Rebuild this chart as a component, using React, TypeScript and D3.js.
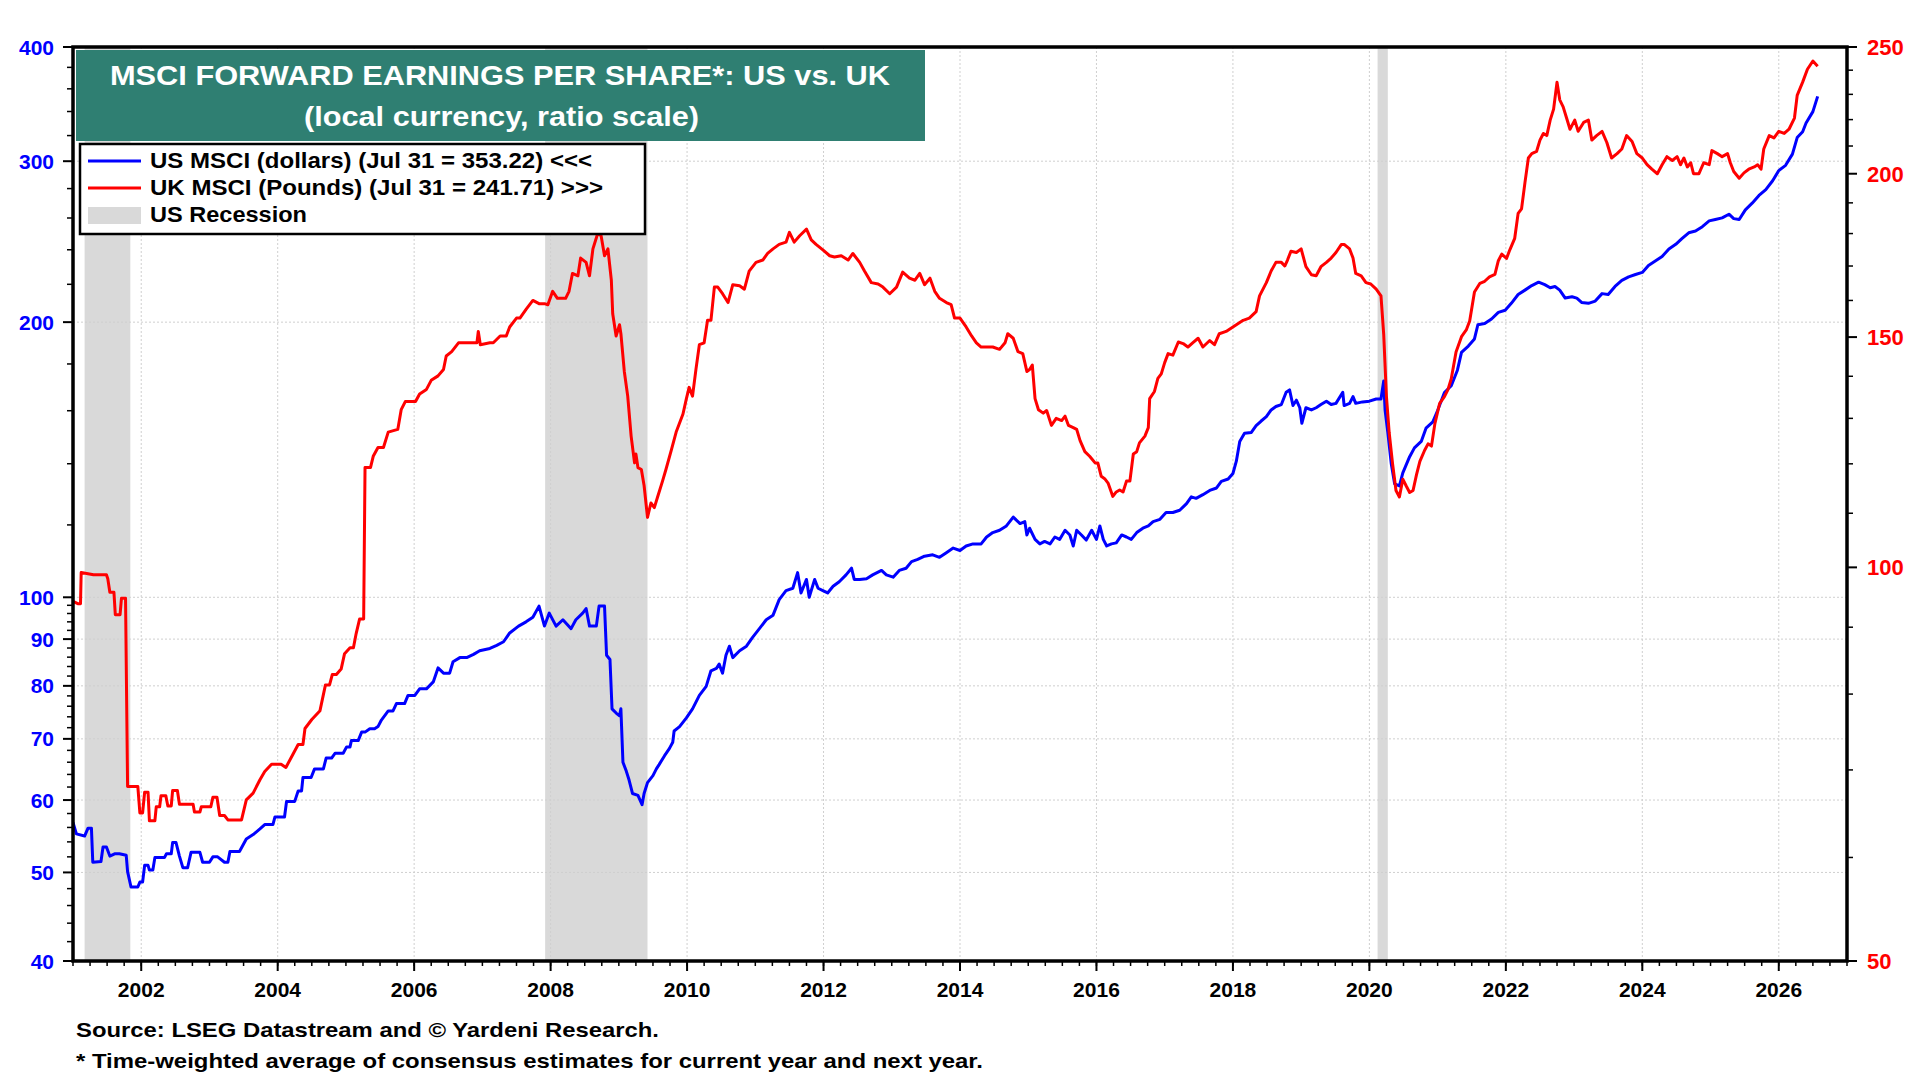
import * as d3 from 'd3';

// US MSCI forward EPS, dollars (left axis) — [decimal year, value]
const usMsci: [number, number][] = [
  [2001.00,56.7],[2001.05,55.1],[2001.17,54.8],[2001.22,55.9],[2001.27,55.9],[2001.29,51.3],[2001.41,51.4],[2001.44,53.3],[2001.49,53.3],[2001.54,52.1],[2001.61,52.4],[2001.68,52.4],[2001.78,52.2],[2001.80,50.1],[2001.85,48.2],[2001.95,48.2],[2001.98,48.8],[2002.02,48.8],[2002.05,50.9],[2002.10,50.9],[2002.12,50.3],[2002.17,50.3],[2002.20,51.9],[2002.34,51.9],[2002.37,52.4],[2002.44,52.4],[2002.46,53.9],[2002.51,53.9],[2002.56,52.1],[2002.61,50.6],[2002.68,50.6],[2002.73,52.6],[2002.86,52.6],[2002.90,51.3],[2003.00,51.3],[2003.05,52.0],[2003.12,52.0],[2003.22,51.3],[2003.27,51.3],[2003.30,52.7],[2003.44,52.7],[2003.54,54.4],[2003.64,55.0],[2003.74,55.8],[2003.81,56.4],[2003.93,56.4],[2003.96,57.5],[2004.10,57.5],[2004.13,59.8],[2004.25,59.8],[2004.30,61.4],[2004.35,61.4],[2004.37,63.5],[2004.49,63.5],[2004.54,64.9],[2004.67,64.9],[2004.71,66.7],[2004.79,66.7],[2004.84,67.5],[2004.96,67.5],[2005.01,68.6],[2005.06,68.6],[2005.08,69.7],[2005.18,69.7],[2005.23,71.2],[2005.28,71.2],[2005.35,71.8],[2005.42,71.8],[2005.47,72.2],[2005.52,73.4],[2005.62,75.1],[2005.69,75.1],[2005.74,76.5],[2005.86,76.5],[2005.91,78.1],[2006.01,78.1],[2006.08,79.4],[2006.18,79.4],[2006.28,80.8],[2006.35,83.7],[2006.43,82.6],[2006.52,82.6],[2006.57,85.0],[2006.67,85.9],[2006.77,85.9],[2006.87,86.6],[2006.96,87.4],[2007.11,87.9],[2007.21,88.6],[2007.31,89.4],[2007.40,91.4],[2007.53,93.0],
  [2007.64,94.0],[2007.74,95.1],[2007.83,97.8],[2007.91,93.0],[2007.98,96.1],[2008.08,93.0],[2008.18,94.5],[2008.30,92.4],[2008.37,94.5],[2008.47,96.1],[2008.52,97.2],[2008.57,93.0],[2008.67,93.0],[2008.71,97.8],[2008.79,97.8],[2008.82,86.4],[2008.87,85.5],[2008.90,75.5],[2008.96,74.7],[2009.01,74.2],[2009.03,75.5],[2009.06,66.0],[2009.11,64.5],[2009.15,63.1],[2009.20,61.0],[2009.28,60.7],[2009.34,59.3],[2009.37,61.0],[2009.42,62.7],[2009.50,63.8],[2009.55,64.9],[2009.59,65.6],[2009.67,67.1],[2009.74,68.3],[2009.79,69.4],[2009.81,71.4],[2009.89,72.2],[2009.99,73.8],[2010.08,75.5],[2010.18,78.1],[2010.28,79.9],[2010.35,83.1],[2010.43,83.6],[2010.47,84.5],[2010.52,82.6],[2010.57,86.4],[2010.62,88.4],[2010.67,85.9],[2010.77,87.4],[2010.87,88.4],[2010.96,90.4],[2011.06,92.4],[2011.16,94.5],[2011.26,95.6],[2011.35,99.4],[2011.45,101.7],[2011.55,102.3],[2011.62,106.4],[2011.67,101.1],[2011.75,104.6],[2011.79,100.0],[2011.87,104.6],[2011.92,102.3],[2011.99,101.7],[2012.06,101.1],[2012.14,102.8],[2012.23,104.0],[2012.33,105.8],[2012.41,107.6],[2012.45,104.6],[2012.53,104.6],[2012.63,104.8],[2012.72,105.8],[2012.85,107.0],[2012.92,105.8],[2013.02,105.2],[2013.11,107.0],[2013.21,107.6],[2013.29,109.4],[2013.38,110.0],[2013.48,110.9],[2013.60,111.3],[2013.70,110.6],[2013.80,111.9],[2013.90,113.2],[2014.00,112.5],[2014.09,113.8],[2014.19,114.4],[2014.31,114.4],[2014.39,116.4],[2014.48,117.7],[2014.58,118.4],[2014.68,119.7],[2014.78,122.4],[2014.88,120.4],[2014.95,121.0],
  [2014.98,117.0],[2015.02,119.0],[2015.10,115.7],[2015.17,114.4],[2015.24,115.1],[2015.32,114.4],[2015.39,116.4],[2015.46,115.7],[2015.54,118.4],[2015.61,117.0],[2015.66,113.8],[2015.71,118.4],[2015.78,117.0],[2015.85,115.5],[2015.93,118.4],[2016.00,115.7],[2016.05,119.7],[2016.10,115.7],[2016.15,113.8],[2016.22,114.4],[2016.29,114.7],[2016.37,117.0],[2016.44,116.4],[2016.51,115.7],[2016.59,117.7],[2016.68,119.0],[2016.76,119.7],[2016.83,121.0],[2016.93,121.7],[2017.02,123.8],[2017.12,123.8],[2017.22,124.5],[2017.32,126.6],[2017.39,128.8],[2017.46,128.3],[2017.56,129.5],[2017.66,130.9],[2017.76,131.7],[2017.83,133.9],[2017.93,134.7],[2018.00,136.6],[2018.05,140.9],[2018.10,148.1],[2018.17,151.2],[2018.27,151.5],[2018.34,154.1],[2018.41,155.8],[2018.49,157.6],[2018.56,160.3],[2018.63,161.7],[2018.71,162.5],[2018.78,167.6],[2018.83,168.6],[2018.88,162.1],[2018.93,164.3],[2018.98,161.2],[2019.01,155.0],[2019.07,161.2],[2019.15,160.3],[2019.22,161.2],[2019.29,162.5],[2019.37,163.9],[2019.44,162.5],[2019.51,163.0],[2019.61,167.6],[2019.63,162.1],[2019.71,163.0],[2019.76,165.8],[2019.80,163.0],[2019.90,163.6],[2020.00,163.9],[2020.10,164.8],[2020.17,164.8],[2020.21,172.4],[2020.23,160.3],[2020.27,151.5],[2020.32,140.1],[2020.37,133.1],[2020.44,132.4],
  [2020.49,136.8],[2020.59,142.5],[2020.66,145.7],[2020.76,148.1],[2020.83,153.1],[2020.93,155.6],[2021.00,160.1],[2021.10,167.5],[2021.20,170.4],[2021.29,177.2],[2021.35,185.3],[2021.45,188.3],[2021.54,191.7],[2021.59,198.7],[2021.69,199.3],[2021.79,201.6],[2021.89,205.0],[2021.99,206.1],[2022.08,209.7],[2022.18,214.4],[2022.28,216.8],[2022.38,219.3],[2022.48,221.2],[2022.57,219.8],[2022.65,218.1],[2022.72,218.8],[2022.79,216.8],[2022.87,212.5],[2022.97,213.2],[2023.04,212.5],[2023.11,210.2],[2023.21,209.7],[2023.31,210.9],[2023.41,214.9],[2023.50,214.4],[2023.60,218.8],[2023.70,222.2],[2023.80,224.2],[2023.90,225.5],[2024.00,226.7],[2024.09,230.7],[2024.19,233.3],[2024.29,236.0],[2024.39,240.5],[2024.49,243.3],[2024.58,246.8],[2024.68,250.5],[2024.78,251.6],[2024.88,254.4],[2024.98,258.1],[2025.07,259.0],[2025.17,260.1],[2025.27,262.5],[2025.34,259.6],[2025.42,259.0],[2025.51,265.4],[2025.61,269.9],[2025.71,275.2],[2025.81,279.3],[2025.91,285.6],[2026.00,293.0],[2026.10,296.9],[2026.20,305.4],[2026.27,318.4],[2026.35,323.1],[2026.40,330.3],[2026.50,339.9],[2026.57,353.2],
];

// UK MSCI forward EPS, pounds (right axis)
const ukMsci: [number, number][] = [
  [2001.00,94.2],[2001.07,93.8],[2001.11,93.8],[2001.12,99.1],[2001.30,98.7],[2001.49,98.7],[2001.51,98.0],[2001.54,95.7],[2001.60,95.7],[2001.62,92.0],[2001.69,92.0],[2001.71,94.7],[2001.77,94.7],[2001.80,68.0],[2001.95,68.0],[2001.98,64.9],[2002.02,64.9],[2002.05,67.3],[2002.10,67.3],[2002.12,64.0],[2002.20,64.0],[2002.22,65.6],[2002.27,65.6],[2002.29,66.9],[2002.36,66.9],[2002.39,65.7],[2002.44,65.7],[2002.46,67.5],[2002.53,67.5],[2002.56,65.9],[2002.76,65.9],[2002.78,65.0],[2002.86,65.0],[2002.88,65.6],[2003.02,65.6],[2003.05,66.7],[2003.11,66.7],[2003.15,64.6],[2003.22,64.6],[2003.27,64.1],[2003.47,64.1],[2003.54,66.4],[2003.64,67.2],[2003.74,68.8],[2003.81,69.8],[2003.91,70.7],[2004.05,70.7],[2004.12,70.3],[2004.22,71.9],[2004.30,73.2],[2004.37,73.2],[2004.40,75.3],[2004.50,76.5],[2004.62,77.7],[2004.70,81.3],[2004.76,81.3],[2004.80,82.8],[2004.86,82.8],[2004.93,83.6],[2004.98,85.9],[2005.06,86.8],[2005.11,86.8],[2005.15,89.0],[2005.20,91.3],[2005.26,91.3],[2005.28,119.2],[2005.36,119.2],[2005.40,121.6],[2005.47,123.5],[2005.55,123.5],[2005.62,126.9],[2005.76,127.5],[2005.81,132.0],[2005.87,133.9],[2006.02,133.9],[2006.08,135.7],[2006.18,136.8],[2006.25,139.0],[2006.35,140.1],[2006.43,141.7],[2006.47,145.1],[2006.55,146.2],[2006.65,148.5],[2006.92,148.5],[2006.94,151.5],[2006.97,148.0],[2007.11,148.5],[2007.16,148.5],[2007.26,150.3],[2007.35,150.3],[2007.40,152.7],[2007.50,155.1],[2007.55,155.1],
  [2007.64,157.5],[2007.74,160.0],[2007.83,159.1],[2007.91,159.1],[2007.96,158.8],[2008.03,162.6],[2008.10,160.6],[2008.22,160.6],[2008.27,162.6],[2008.32,167.8],[2008.40,167.1],[2008.44,172.4],[2008.52,171.1],[2008.57,167.1],[2008.62,175.2],[2008.69,180.0],[2008.74,179.3],[2008.79,173.1],[2008.84,175.2],[2008.89,165.8],[2008.91,156.3],[2008.96,150.3],[2009.01,153.3],[2009.03,150.9],[2009.08,141.2],[2009.13,135.2],[2009.18,126.0],[2009.23,120.2],[2009.25,122.1],[2009.28,119.2],[2009.33,118.8],[2009.37,115.5],[2009.42,109.2],[2009.47,112.0],[2009.52,111.1],[2009.57,113.3],[2009.64,116.4],[2009.69,118.8],[2009.77,123.0],[2009.84,126.9],[2009.94,131.0],[2009.99,134.6],[2010.03,137.3],[2010.08,135.2],[2010.13,141.7],[2010.18,148.0],[2010.25,148.5],[2010.30,154.5],[2010.35,154.5],[2010.40,163.8],[2010.45,163.8],[2010.52,161.9],[2010.60,159.4],[2010.67,164.5],[2010.77,164.2],[2010.84,163.2],[2010.91,168.5],[2011.01,171.1],[2011.11,171.8],[2011.18,173.8],[2011.26,175.2],[2011.35,176.6],[2011.45,177.3],[2011.50,180.4],[2011.57,177.3],[2011.65,179.3],[2011.75,181.4],[2011.82,178.0],[2011.89,176.6],[2011.99,174.9],[2012.09,173.1],[2012.16,172.7],[2012.26,173.1],[2012.36,171.8],[2012.43,173.8],[2012.53,171.1],[2012.60,168.5],[2012.70,165.1],[2012.80,164.7],[2012.87,163.8],[2012.97,161.9],[2013.07,163.8],[2013.16,168.2],[2013.26,166.4],[2013.34,165.8],[2013.41,167.8],[2013.48,164.5],[2013.56,166.4],[2013.63,162.6],[2013.70,160.6],[2013.80,159.4],[2013.87,158.8],[2013.92,155.1],[2014.00,155.1],[2014.09,152.7],[2014.17,150.3],[2014.24,148.5],[2014.31,147.4],[2014.48,147.4],[2014.58,146.8],[2014.66,148.5],[2014.70,150.9],[2014.78,149.7],[2014.85,146.2],
  [2014.92,145.7],[2014.98,141.2],[2015.02,141.7],[2015.06,142.8],[2015.10,134.6],[2015.15,132.0],[2015.22,131.2],[2015.27,131.8],[2015.34,128.4],[2015.41,130.0],[2015.49,129.5],[2015.54,130.5],[2015.59,128.4],[2015.66,127.9],[2015.71,127.5],[2015.76,125.0],[2015.83,122.6],[2015.90,121.6],[2015.98,120.2],[2016.02,120.2],[2016.07,117.4],[2016.12,116.9],[2016.17,116.0],[2016.24,113.3],[2016.29,114.2],[2016.34,114.6],[2016.39,114.2],[2016.44,116.4],[2016.49,116.4],[2016.54,122.1],[2016.59,122.6],[2016.63,124.5],[2016.71,126.0],[2016.76,127.9],[2016.78,134.6],[2016.85,136.3],[2016.90,139.5],[2016.95,140.6],[2017.00,143.4],[2017.05,145.7],[2017.12,145.3],[2017.20,148.7],[2017.27,148.3],[2017.34,147.4],[2017.41,148.5],[2017.49,149.7],[2017.56,147.4],[2017.66,149.1],[2017.73,148.0],[2017.80,150.9],[2017.90,151.5],[2018.05,153.3],[2018.15,154.5],[2018.24,155.1],[2018.34,156.9],[2018.39,161.3],[2018.49,165.1],[2018.56,168.5],[2018.63,171.1],[2018.71,171.1],[2018.76,170.0],[2018.80,171.8],[2018.85,174.5],[2018.93,174.1],[2019.00,175.2],[2019.07,169.8],[2019.15,167.4],[2019.22,167.1],[2019.29,169.8],[2019.37,171.1],[2019.44,172.4],[2019.51,174.1],[2019.59,176.6],[2019.63,176.6],[2019.71,175.2],[2019.76,172.4],[2019.80,167.8],[2019.88,167.1],[2019.95,165.1],[2020.02,164.7],[2020.10,163.2],[2020.17,161.3],
  [2020.21,150.7],[2020.25,135.1],[2020.29,126.8],[2020.34,120.0],[2020.39,114.5],[2020.44,113.2],[2020.49,116.8],[2020.54,115.4],[2020.59,114.1],[2020.64,114.5],[2020.69,117.7],[2020.74,120.5],[2020.81,122.9],[2020.86,124.3],[2020.91,123.8],[2020.96,128.8],[2021.03,133.5],[2021.10,135.1],[2021.15,136.7],[2021.20,139.4],[2021.27,146.1],[2021.35,150.1],[2021.42,151.9],[2021.47,154.3],[2021.54,162.4],[2021.62,164.9],[2021.69,165.5],[2021.76,166.8],[2021.84,167.5],[2021.89,171.6],[2021.94,173.6],[2022.01,172.3],[2022.06,175.0],[2022.13,178.5],[2022.18,186.5],[2022.23,188.0],[2022.28,196.9],[2022.33,205.6],[2022.38,207.2],[2022.45,208.0],[2022.50,212.2],[2022.55,214.7],[2022.60,213.9],[2022.65,219.8],[2022.70,224.1],[2022.75,235.0],[2022.79,227.8],[2022.84,225.0],[2022.89,220.6],[2022.94,216.3],[2023.01,219.8],[2023.06,215.5],[2023.14,218.9],[2023.21,219.8],[2023.26,212.2],[2023.33,213.9],[2023.41,215.5],[2023.48,211.3],[2023.55,205.6],[2023.63,207.2],[2023.70,208.9],[2023.77,213.9],[2023.85,211.7],[2023.92,207.2],[2024.00,205.6],[2024.07,203.2],[2024.14,201.6],[2024.22,200.0],[2024.29,203.2],[2024.36,206.1],[2024.44,204.7],[2024.51,206.1],[2024.56,203.2],[2024.61,205.6],[2024.66,202.4],[2024.71,203.9],[2024.75,200.0],[2024.83,200.0],[2024.90,203.9],[2024.98,203.2],[2025.02,208.3],[2025.10,207.2],[2025.17,206.1],[2025.25,207.2],[2025.29,203.9],[2025.34,200.8],[2025.42,198.4],[2025.49,200.3],[2025.56,201.6],[2025.64,202.4],[2025.69,203.2],[2025.74,201.6],[2025.78,208.9],[2025.86,213.9],[2025.93,213.0],[2026.00,215.5],[2026.08,214.7],[2026.15,216.3],[2026.23,220.6],[2026.27,229.6],[2026.35,235.0],[2026.42,240.4],[2026.50,243.9],[2026.57,241.7],
];

const recessions: [number, number][] = [[2001.17, 2001.84], [2007.92, 2009.42], [2020.12, 2020.27]];
const leftTicks = [40, 50, 60, 70, 80, 90, 100, 200, 300, 400];
const leftGrid = [50, 60, 70, 80, 90, 100, 200, 300];
const rightTicks = [50, 100, 150, 200, 250];
const yearTicks = d3.range(2002, 2027, 2);

const FONT = '"Liberation Sans", Arial, sans-serif';

export default function App() {
  const W = 1920;
  const H = 1080;
  const m = { left: 73, right: 1847, top: 47, bottom: 961 };

  const x = d3.scaleLinear().domain([2001, 2027]).range([m.left, m.right]);
  const yL = d3.scaleLog().domain([40, 400]).range([m.bottom, m.top]);
  const yR = d3.scaleLog().domain([50, 250]).range([m.bottom, m.top]);

  const usLine = d3.line<[number, number]>().x(d => x(d[0])).y(d => yL(d[1]));
  const ukLine = d3.line<[number, number]>().x(d => x(d[0])).y(d => yR(d[1]));

  // minor ticks
  const leftMinor = [
    ...d3.range(42, 100, 2).filter(v => v % 10 !== 0),
    ...d3.range(120, 400, 20).filter(v => v % 100 !== 0),
  ];
  const rightMinor = d3.range(60, 250, 10).filter(v => v % 50 !== 0);
  const quarterTicks = d3.range(2001, 2027.01, 0.25);

  const txt = { fontFamily: FONT, fontWeight: 'bold' as const };

  return (
    <div style={{ position: 'absolute', left: 0, top: 0 }}>
      <svg width={W} height={H} style={{ display: 'block', background: '#fff' }}>
        <defs>
          <clipPath id="plot">
            <rect x={m.left} y={m.top} width={m.right - m.left} height={m.bottom - m.top} />
          </clipPath>
        </defs>
        <rect x={0} y={0} width={W} height={H} fill="#fff" />

        {/* recession bands */}
        {recessions.map(([a, b], i) => (
          <rect key={i} x={x(a)} y={m.top} width={x(b) - x(a)} height={m.bottom - m.top} fill="#d9d9d9" />
        ))}

        {/* grid */}
        {leftGrid.map(v => (
          <line key={'h' + v} x1={m.left} x2={m.right} y1={yL(v)} y2={yL(v)}
            stroke="#cfcfcf" strokeWidth={1} strokeDasharray="2,2" />
        ))}
        {yearTicks.map(t => (
          <line key={'v' + t} x1={x(t)} x2={x(t)} y1={m.top} y2={m.bottom}
            stroke="#cfcfcf" strokeWidth={1} strokeDasharray="2,2" />
        ))}

        {/* series */}
        <g clipPath="url(#plot)">
          <path d={usLine(usMsci) || ''} fill="none" stroke="#0000ff" strokeWidth={3} strokeLinejoin="round" />
          <path d={ukLine(ukMsci) || ''} fill="none" stroke="#ff0000" strokeWidth={3} strokeLinejoin="round" />
        </g>

        {/* frame */}
        <rect x={m.left} y={m.top} width={m.right - m.left} height={m.bottom - m.top}
          fill="none" stroke="#000" strokeWidth={3.5} />

        {/* left axis */}
        {leftTicks.map(v => (
          <g key={'l' + v}>
            <line x1={m.left - 10} x2={m.left} y1={yL(v)} y2={yL(v)} stroke="#000" strokeWidth={2} />
            <text x={54} y={yL(v)} dy="0.36em" textAnchor="end" fill="#0000ff" {...txt} fontSize={21}>{v}</text>
          </g>
        ))}
        {leftMinor.map(v => (
          <line key={'lm' + v} x1={m.left - 6} x2={m.left} y1={yL(v)} y2={yL(v)} stroke="#000" strokeWidth={1.5} />
        ))}

        {/* right axis */}
        {rightTicks.map(v => (
          <g key={'r' + v}>
            <line x1={m.right} x2={m.right + 10} y1={yR(v)} y2={yR(v)} stroke="#000" strokeWidth={2} />
            <text x={1867} y={yR(v)} dy="0.36em" textAnchor="start" fill="#ff0000" {...txt} fontSize={22}>{v}</text>
          </g>
        ))}
        {rightMinor.map(v => (
          <line key={'rm' + v} x1={m.right} x2={m.right + 6} y1={yR(v)} y2={yR(v)} stroke="#000" strokeWidth={1.5} />
        ))}

        {/* x axis */}
        {quarterTicks.map(t => (
          <line key={'q' + t} x1={x(t)} x2={x(t)} y1={m.bottom} y2={m.bottom + 5} stroke="#000" strokeWidth={1.5} />
        ))}
        {yearTicks.map(t => (
          <g key={'y' + t}>
            <line x1={x(t)} x2={x(t)} y1={m.bottom} y2={m.bottom + 10} stroke="#000" strokeWidth={2} />
            <text x={x(t)} y={997} textAnchor="middle" fill="#000" {...txt} fontSize={21}>{t}</text>
          </g>
        ))}

        {/* title */}
        <rect x={76} y={50} width={849} height={91} fill="#2f7f72" />
        <text x={110} y={85} fill="#fff" {...txt} fontSize={28} textLength={780} lengthAdjust="spacingAndGlyphs">
          MSCI FORWARD EARNINGS PER SHARE*: US vs. UK
        </text>
        <text x={304} y={126} fill="#fff" {...txt} fontSize={28} textLength={395} lengthAdjust="spacingAndGlyphs">
          (local currency, ratio scale)
        </text>

        {/* legend */}
        <rect x={80} y={144} width={565} height={90} fill="#fff" stroke="#000" strokeWidth={2.5} />
        <line x1={88} x2={141} y1={161} y2={161} stroke="#0000ff" strokeWidth={3} />
        <line x1={88} x2={141} y1={188} y2={188} stroke="#ff0000" strokeWidth={3} />
        <rect x={88} y={207} width={53} height={17} fill="#d9d9d9" />
        <text x={150} y={168} {...txt} fontSize={22} fill="#000" textLength={442} lengthAdjust="spacingAndGlyphs">US MSCI (dollars) (Jul 31 = 353.22) &lt;&lt;&lt;</text>
        <text x={150} y={195} {...txt} fontSize={22} fill="#000" textLength={453} lengthAdjust="spacingAndGlyphs">UK MSCI (Pounds) (Jul 31 = 241.71) &gt;&gt;&gt;</text>
        <text x={150} y={222} {...txt} fontSize={22} fill="#000" textLength={157} lengthAdjust="spacingAndGlyphs">US Recession</text>

        {/* footer */}
        <text x={76} y={1037} {...txt} fontSize={21} fill="#000" textLength={583} lengthAdjust="spacingAndGlyphs">
          Source: LSEG Datastream and © Yardeni Research.
        </text>
        <text x={76} y={1068} {...txt} fontSize={21} fill="#000" textLength={907} lengthAdjust="spacingAndGlyphs">
          * Time-weighted average of consensus estimates for current year and next year.
        </text>
      </svg>
    </div>
  );
}
